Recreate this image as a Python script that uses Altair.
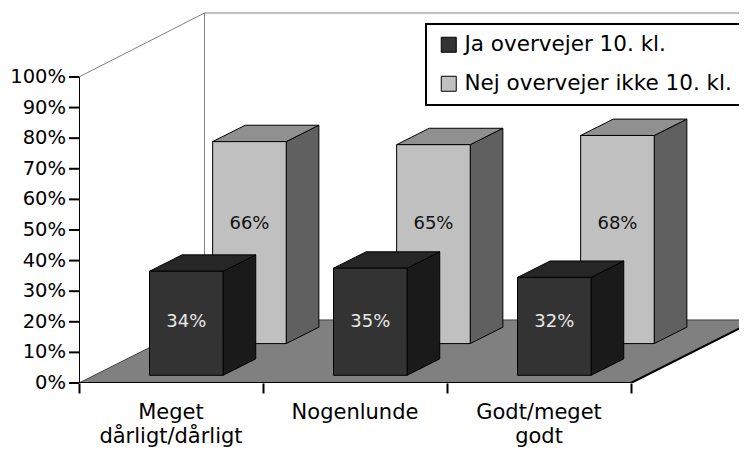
import altair as alt
import pandas as pd

categories = ["Meget\ndårligt/dårligt", "Nogenlunde", "Godt/meget\ngodt"]
series_names = ["Ja overvejer 10. kl.", "Nej overvejer ikke 10. kl."]
ja_values = [34, 35, 32]
nej_values = [66, 65, 68]
y_ticks = [0, 10, 20, 30, 40, 50, 60, 70, 80, 90, 100]

FONT = "DejaVu Sans"
DX, DY = 0.682, 20.6        # projection of full depth, in category units / percent
BW = 0.40                   # bar width in category units
XMAX, YMAX = 660 / 184, 120.9
ROWS = {"ja": (0.122, 0.382), "nej": (0.625, 0.885)}
LABEL_LEVEL = {"ja": 20, "nej": 52}

xs = alt.Scale(domain=[0, XMAX], nice=False, zero=False)
ys = alt.Scale(domain=[0, YMAX], nice=False, zero=False)
X = lambda f="x": alt.X(f"{f}:Q", scale=xs, title=None)
Y = lambda f="y": alt.Y(f"{f}:Q", scale=ys, title=None)


def faces(values, name, row):
    z0, z1 = ROWS[row]
    front, side, top = [], [], []
    for i, v in enumerate(values):
        left = i + (1 - BW) / 2
        front.append(dict(x=left + z0 * DX, x2=left + BW + z0 * DX, y=z0 * DY,
                          y2=z0 * DY + v, series=name, t=f"{v}%", m=LABEL_LEVEL[row],
                          cx=left + BW / 2 + z0 * DX))
        for z in (z0, z1):
            side.append(dict(k=i, x=left + BW + z * DX, y=z * DY, y2=z * DY + v))
            top.append(dict(k=i, y=z * DY + v, x=left + z * DX, x2=left + BW + z * DX))
    return pd.DataFrame(front), pd.DataFrame(side), pd.DataFrame(top)


color = alt.Color("series:N", scale=alt.Scale(domain=series_names, range=["#333333", "#C0C0C0"]),
                  legend=alt.Legend(title=None, orient="none", legendX=347, legendY=11,
                                    fillColor="white", strokeColor="black", padding=10,
                                    symbolType="square", symbolSize=225, symbolStrokeColor="black",
                                    symbolStrokeWidth=1, symbolOffset=2, labelFont=FONT, labelFontSize=21.5,
                                    labelColor="black", labelOffset=5, rowPadding=16,
                                    labelLimit=400))


def bar_layers(values, name, row, c_side, c_top):
    front, side, top = faces(values, name, row)
    return [
        alt.Chart(side).mark_area(color=c_side, stroke="black", strokeWidth=1, opacity=1).encode(
            x=X(), y=Y(), y2="y2:Q", detail="k:N"),
        alt.Chart(top).mark_area(color=c_top, stroke="black", strokeWidth=1, opacity=1, orient="horizontal").encode(
            y=Y(), x=X(), x2="x2:Q", detail="k:N"),
        alt.Chart(front).mark_rect(stroke="black", strokeWidth=1).encode(
            x=X(), x2="x2:Q", y=Y(), y2="y2:Q", color=color),
    ]


floor = pd.DataFrame([dict(y=0, x=0, x2=3), dict(y=DY, x=DX, x2=3 + DX)])
floor_layer = alt.Chart(floor).mark_area(color="#808080", stroke="#404040", strokeWidth=1, opacity=1,
                                         orient="horizontal", clip=True).encode(
    y=Y(), x=X(), x2="x2:Q")

wall = pd.DataFrame([
    dict(k=0, o=0, x=0, y=100), dict(k=0, o=1, x=DX, y=YMAX), dict(k=0, o=2, x=XMAX, y=YMAX),
    dict(k=1, o=0, x=DX, y=YMAX), dict(k=1, o=1, x=DX, y=DY),
])
wall_layer = alt.Chart(wall).mark_line(color="#808080", strokeWidth=1).encode(
    x=X(), y=Y(), detail="k:N", order="o:Q")

axis_lines = pd.DataFrame([
    dict(k=0, o=0, x=0, y=0), dict(k=0, o=1, x=0, y=100),
    dict(k=1, o=0, x=0, y=0), dict(k=1, o=1, x=3, y=0), dict(k=1, o=2, x=3 + DX, y=DY),
])
axis_layer = alt.Chart(axis_lines).mark_line(color="black", strokeWidth=2, clip=True).encode(
    x=X(), y=Y(), detail="k:N", order="o:Q")

tick_df = pd.DataFrame({"x": [0], "y": [0]})
axes_layer = alt.Chart(tick_df).mark_point(opacity=0).encode(
    x=alt.X("x:Q", scale=xs, axis=alt.Axis(values=[0, 1, 2, 3], title=None, labels=False, grid=False,
                                           domain=False, tickSize=10, tickWidth=2, tickColor="black")),
    y=alt.Y("y:Q", scale=ys, axis=alt.Axis(title=None, grid=False, domain=False, ticks=False, labels=False)),
)

y_df = pd.DataFrame({"y": y_ticks, "t": [f"{v}%" for v in y_ticks]})
y_tick_marks = alt.Chart(y_df).mark_rule(color="black", strokeWidth=2).encode(
    x=alt.value(-10), x2=alt.value(0), y=Y())
y_tick_text = alt.Chart(y_df).mark_text(font=FONT, fontSize=19.5, color="black", align="right",
                                        baseline="middle", dx=-13).encode(
    x=alt.value(0), y=Y(), text="t:N")

ja_front = faces(ja_values, series_names[0], "ja")[0]
nej_front = faces(nej_values, series_names[1], "nej")[0]
ja_text = alt.Chart(ja_front).mark_text(font=FONT, fontSize=18, color="#E8E8E8").encode(
    x=X("cx"), y=Y("m"), text="t:N")
nej_text = alt.Chart(nej_front).mark_text(font=FONT, fontSize=18, color="#111111").encode(
    x=X("cx"), y=Y("m"), text="t:N")

cat_df = pd.DataFrame({"x": [i + 0.5 for i in range(3)], "y": [0] * 3, "t": categories})
cat_text = alt.Chart(cat_df).mark_text(font=FONT, fontSize=21, color="black", baseline="top",
                                       lineBreak="\n", lineHeight=24, dy=19).encode(
    x=X(), y=Y(), text="t:N")

layers = [axes_layer, wall_layer, floor_layer]
layers += bar_layers(nej_values, series_names[1], "nej", "#606060", "#909090")
layers += bar_layers(ja_values, series_names[0], "ja", "#1A1A1A", "#262626")
layers += [axis_layer, y_tick_marks, y_tick_text, ja_text, nej_text, cat_text]

chart = alt.layer(*layers).properties(
    width=660, height=370, autosize=alt.AutoSizeParams(type="none"),
    padding={"left": 71, "top": 5, "right": 0, "bottom": 66},
).configure_view(stroke=None).configure_legend(strokeWidth=2)

chart.save("out.html", embed_options={"renderer": "svg", "actions": False})
